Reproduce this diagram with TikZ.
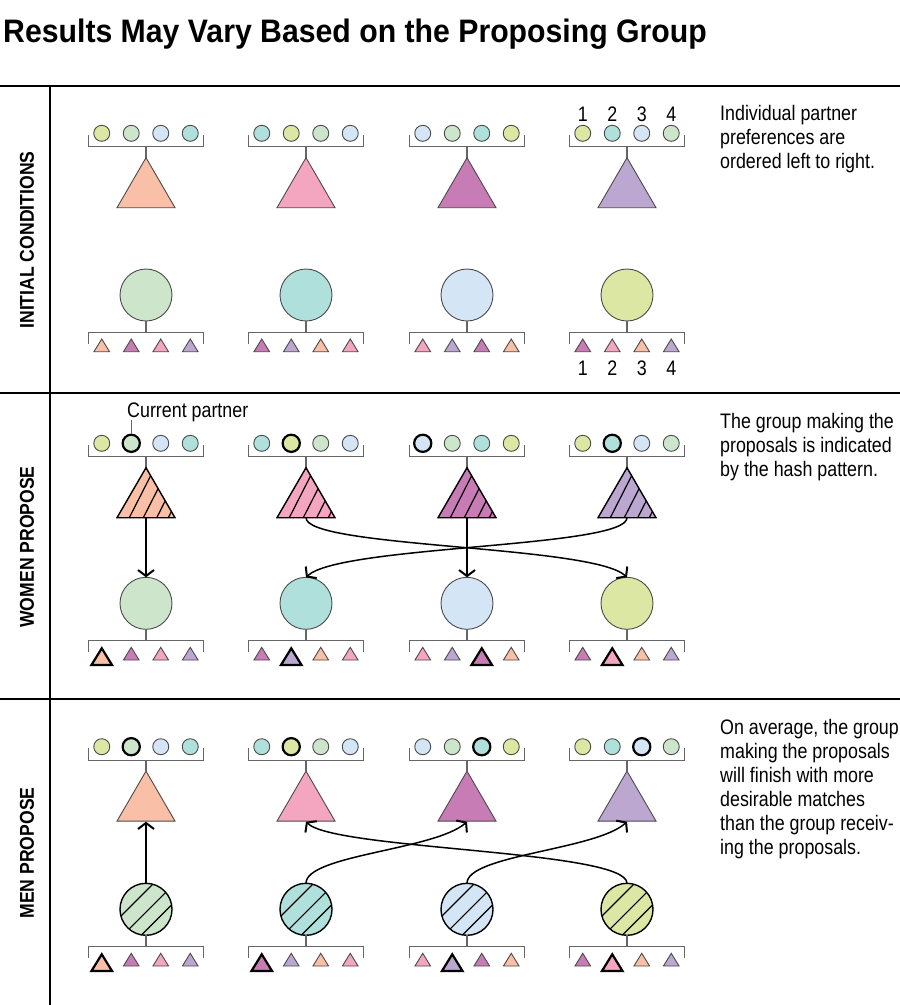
\documentclass[tikz,border=0pt]{standalone}
\usepackage{fontspec}
\setmainfont{Liberation Sans}[FakeStretch=0.85]
\newfontfamily\titlefont{Liberation Sans}[FakeStretch=0.93]
\newfontfamily\lblfont{Liberation Sans}[FakeStretch=0.88]
\usetikzlibrary{arrows.meta}
\definecolor{cpe}{HTML}{F9BFA7}
\definecolor{cpi}{HTML}{F4A5C0}
\definecolor{cma}{HTML}{C87CB5}
\definecolor{cla}{HTML}{BCA7D1}
\definecolor{cgr}{HTML}{CDE6CB}
\definecolor{cte}{HTML}{B0E0DC}
\definecolor{clb}{HTML}{D4E5F5}
\definecolor{cyg}{HTML}{DDE7A4}
\definecolor{brkgray}{HTML}{666666}
\definecolor{outl}{HTML}{4A4A4A}
\tikzset{
  brk/.style={draw=brkgray, line width=1.2pt},
  thinout/.style={draw=outl, line width=0.9pt},
  hlout/.style={draw=black, line width=2.2pt, line join=miter},
  hatchline/.style={draw=black, line width=1.2pt},
  darkout/.style={draw=black, line width=1.4pt, line join=miter},
  arr/.style={line width=1.5pt, -{Straight Barb[length=6pt,width=16pt,line width=2pt]}},
  rtxt/.style={anchor=base west, inner sep=0pt, font=\fontsize{21}{24}\selectfont},
  numtxt/.style={inner sep=0pt, font=\fontsize{21}{24}\selectfont},
  lbl/.style={rotate=90, inner sep=0pt, font=\lblfont\bfseries\fontsize{20}{24}\selectfont},
  sepline/.style={draw=black, line width=1.3pt},
}
% top preference row: cx, circle y, four colours, highlighted index
\newcommand\toppref[7]{%
  \foreach \col [count=\i] in {#3,#4,#5,#6}{%
    \ifnum\i=#7\relax
      \filldraw[fill=\col, hlout] ({#1+(\i-2.5)*29.5},#2) circle (8.6);
    \else
      \filldraw[fill=\col, thinout] ({#1+(\i-2.5)*29.5},#2) circle (8);
    \fi}
  \draw[brk] ({#1-57.5},{#2+1.7}) -- ({#1-57.5},{#2+13.4}) -- ({#1+57.5},{#2+13.4}) -- ({#1+57.5},{#2+1.7});
  \draw[brk] (#1,{#2+13.4}) -- (#1,{#2+24.4});
}
% bottom preference row: cx, big circle y, four colours, highlighted index
\newcommand\botpref[7]{%
  \draw[brk] (#1,{#2+26}) -- (#1,{#2+37.4});
  \draw[brk] ({#1-57.5},{#2+49}) -- ({#1-57.5},{#2+37.4}) -- ({#1+57.5},{#2+37.4}) -- ({#1+57.5},{#2+49});
  \foreach \col [count=\i] in {#3,#4,#5,#6}{%
    \pgfmathsetmacro\xx{#1+(\i-2.5)*29.5}%
    \ifnum\i=#7\relax
      \filldraw[fill=\col, hlout] (\xx,{#2+45}) -- ({\xx+10.3},{#2+61.7}) -- ({\xx-10.3},{#2+61.7}) -- cycle;
    \else
      \filldraw[fill=\col, thinout] (\xx,{#2+44}) -- ({\xx+7.8},{#2+56.7}) -- ({\xx-7.8},{#2+56.7}) -- cycle;
    \fi}
}
% big triangle: cx, small circle y, colour, hatched?
\newcommand\womantri[4]{%
  \ifnum#4=1\relax
    \begin{scope}
      \clip (#1,{#2+24.4}) -- ({#1+29},{#2+74.4}) -- ({#1-29},{#2+74.4}) -- cycle;
      \fill[#3] ({#1-30},{#2+20}) rectangle ({#1+30},{#2+80});
      \foreach \d in {-16.7,-2.7,10.7,22.3}
        \draw[hatchline] ({#1+\d-4.54},{#2+74.4+8.91}) -- ({#1+\d+27.2},{#2+74.4-53.5});
    \end{scope}
    \draw[darkout] (#1,{#2+24.4}) -- ({#1+29},{#2+74.4}) -- ({#1-29},{#2+74.4}) -- cycle;
  \else
    \filldraw[fill=#3, thinout] (#1,{#2+24.4}) -- ({#1+29},{#2+74.4}) -- ({#1-29},{#2+74.4}) -- cycle;
  \fi
}
% big circle: cx, cy, colour, hatched?
\newcommand\mancirc[4]{%
  \ifnum#4=1\relax
    \begin{scope}
      \clip (#1,#2) circle (26);
      \fill[#3] (#1,#2) circle (27);
      \foreach \k in {-13,2,15}
        \draw[hatchline] ({#1+\k*0.7071-32},{#2+\k*0.7071+32}) -- ({#1+\k*0.7071+32},{#2+\k*0.7071-32});
    \end{scope}
    \draw[darkout] (#1,#2) circle (26);
  \else
    \filldraw[fill=#3, thinout] (#1,#2) circle (26);
  \fi
}
\begin{document}
\begin{tikzpicture}[x=1pt,y=-1pt]
\useasboundingbox (0,0) rectangle (900,1005);
\fill[white] (0,0) rectangle (900,1005);

% title
\node[anchor=base west, inner sep=0pt, font=\titlefont\bfseries\fontsize{32.5}{36}\selectfont] (title) at (3,42) {Results May Vary Based on the Proposing Group};

% frame lines
\draw[sepline] (0,86) -- (900,86);
\draw[sepline] (0,393) -- (900,393);
\draw[sepline] (0,699) -- (900,699);
\draw[sepline] (50,86) -- (50,1005);

% section labels
\node[lbl] (lab1) at (27,240) {INITIAL CONDITIONS};
\node[lbl] (lab2) at (27,547) {WOMEN PROPOSE};
\node[lbl] (lab3) at (27,853) {MEN PROPOSE};

% ---------- section 1 ----------
\toppref{146}{133.3}{cyg}{cgr}{clb}{cte}{0}
\toppref{306}{133.3}{cte}{cyg}{cgr}{clb}{0}
\toppref{467}{133.3}{clb}{cgr}{cte}{cyg}{0}
\toppref{627}{133.3}{cyg}{cte}{clb}{cgr}{0}
\womantri{146}{133.3}{cpe}{0}
\womantri{306}{133.3}{cpi}{0}
\womantri{467}{133.3}{cma}{0}
\womantri{627}{133.3}{cla}{0}
\mancirc{146}{295}{cgr}{0}
\mancirc{306}{295}{cte}{0}
\mancirc{467}{295}{clb}{0}
\mancirc{627}{295}{cyg}{0}
\botpref{146}{295}{cpe}{cma}{cpi}{cla}{0}
\botpref{306}{295}{cma}{cla}{cpe}{cpi}{0}
\botpref{467}{295}{cpi}{cla}{cma}{cpe}{0}
\botpref{627}{295}{cma}{cpi}{cpe}{cla}{0}

\node[numtxt] (nt1) at (582.75,114) {1};
\node[numtxt] (nt2) at (612.25,114) {2};
\node[numtxt] (nt3) at (641.75,114) {3};
\node[numtxt] (nt4) at (671.25,114) {4};
\node[numtxt] (nb1) at (582.75,368) {1};
\node[numtxt] (nb2) at (612.25,368) {2};
\node[numtxt] (nb3) at (641.75,368) {3};
\node[numtxt] (nb4) at (671.25,368) {4};

\node[rtxt] (t1a) at (720,120) {Individual partner};
\node[rtxt] (t1b) at (720,144) {preferences are};
\node[rtxt] (t1c) at (720,168) {ordered left to right.};

% ---------- section 2 ----------
\toppref{146}{443.3}{cyg}{cgr}{clb}{cte}{2}
\toppref{306}{443.3}{cte}{cyg}{cgr}{clb}{2}
\toppref{467}{443.3}{clb}{cgr}{cte}{cyg}{1}
\toppref{627}{443.3}{cyg}{cte}{clb}{cgr}{2}
\womantri{146}{443.3}{cpe}{1}
\womantri{306}{443.3}{cpi}{1}
\womantri{467}{443.3}{cma}{1}
\womantri{627}{443.3}{cla}{1}
\mancirc{146}{603.3}{cgr}{0}
\mancirc{306}{603.3}{cte}{0}
\mancirc{467}{603.3}{clb}{0}
\mancirc{627}{603.3}{cyg}{0}
\botpref{146}{603.3}{cpe}{cma}{cpi}{cla}{1}
\botpref{306}{603.3}{cma}{cla}{cpe}{cpi}{2}
\botpref{467}{603.3}{cpi}{cla}{cma}{cpe}{3}
\botpref{627}{603.3}{cma}{cpi}{cpe}{cla}{2}

\node[anchor=base west, inner sep=0pt, font=\fontsize{21}{24}\selectfont] (curp) at (127,417) {Current partner};
\coordinate (curpt) at (131.75,433.9);
\draw[brk] (131.75,420) -- (curpt);

\node[rtxt] (t2a) at (720,428) {The group making the};
\node[rtxt] (t2b) at (720,452) {proposals is indicated};
\node[rtxt] (t2c) at (720,476) {by the hash pattern.};

\foreach \n/\x in {1/146,2/306,3/467,4/627}{
  \coordinate (W\n-b2) at (\x,517.7);
  \coordinate (M\n-t2) at (\x,577.3);
  \coordinate (W\n-b3) at (\x,821.7);
  \coordinate (M\n-t3) at (\x,883.3);
}
\draw[arr] (W1-b2) -- (M1-t2);
\draw[arr] (W3-b2) -- (M3-t2);
\draw[arr] (W2-b2) .. controls (306,548) and (593,545) .. (M4-t2);
\draw[arr] (W4-b2) .. controls (627,548) and (340,545) .. (M2-t2);

% ---------- section 3 ----------
\toppref{146}{746.7}{cyg}{cgr}{clb}{cte}{2}
\toppref{306}{746.7}{cte}{cyg}{cgr}{clb}{2}
\toppref{467}{746.7}{clb}{cgr}{cte}{cyg}{3}
\toppref{627}{746.7}{cyg}{cte}{clb}{cgr}{3}
\womantri{146}{746.7}{cpe}{0}
\womantri{306}{746.7}{cpi}{0}
\womantri{467}{746.7}{cma}{0}
\womantri{627}{746.7}{cla}{0}
\mancirc{146}{909.3}{cgr}{1}
\mancirc{306}{909.3}{cte}{1}
\mancirc{467}{909.3}{clb}{1}
\mancirc{627}{909.3}{cyg}{1}
\botpref{146}{909.3}{cpe}{cma}{cpi}{cla}{1}
\botpref{306}{909.3}{cma}{cla}{cpe}{cpi}{1}
\botpref{467}{909.3}{cpi}{cla}{cma}{cpe}{2}
\botpref{627}{909.3}{cma}{cpi}{cpe}{cla}{2}

\draw[arr] (M1-t3) -- (W1-b3);
\draw[arr] (M2-t3) .. controls (306,855) and (435,850) .. (W3-b3);
\draw[arr] (M3-t3) .. controls (467,855) and (596,850) .. (W4-b3);
\draw[arr] (M4-t3) .. controls (627,850) and (334,850) .. (W2-b3);

\node[rtxt] (t3a) at (720,734) {On average, the group};
\node[rtxt] (t3b) at (720,758) {making the proposals};
\node[rtxt] (t3c) at (720,782) {will finish with more};
\node[rtxt] (t3d) at (720,806) {desirable matches};
\node[rtxt] (t3e) at (720,830) {than the group receiv-};
\node[rtxt] (t3f) at (720,854) {ing the proposals.};
\end{tikzpicture}
\end{document}
